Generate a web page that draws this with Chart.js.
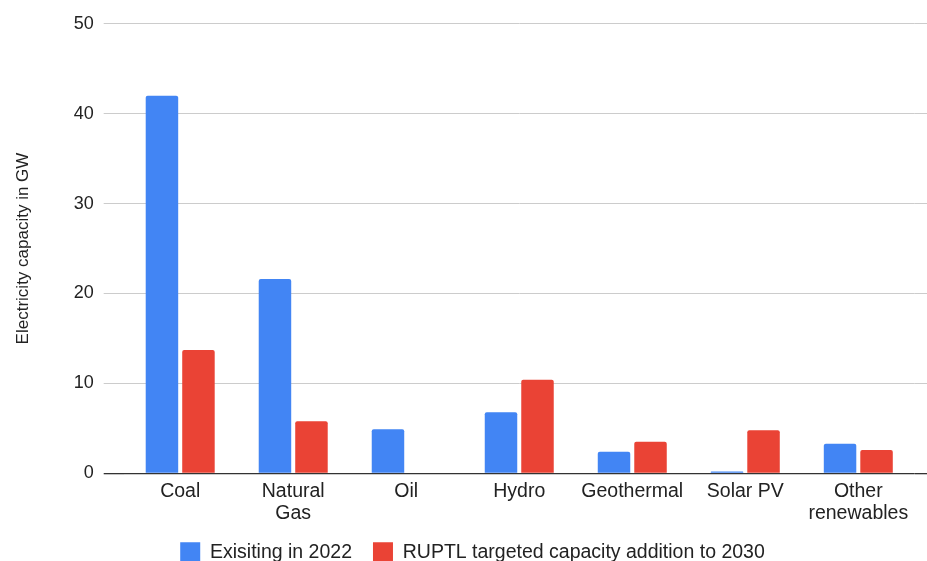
<!DOCTYPE html>
<html lang="en">
<head>
<meta charset="utf-8">
<title>Electricity capacity in GW</title>
<script src="https://cdn.jsdelivr.net/npm/chart.js@4.4.1/dist/chart.umd.min.js"></script>
<style>
    html, body { margin: 0; padding: 0; background: #ffffff; }
    #grafico { display: block; }
</style>
</head>
<body>
<canvas id="grafico" width="927" height="561"></canvas>
<script>
// ======================================================================
// 1. DATOS (GW)
// ======================================================================
const categorias = ['Coal', ['Natural', 'Gas'], 'Oil', 'Hydro', 'Geothermal', 'Solar PV', ['Other', 'renewables']];
const existente2022 = [42.0, 21.6, 4.9, 6.8, 2.4, 0.2, 3.3];
const metaRuptl2030 = [13.7, 5.8, 0, 10.4, 3.5, 4.8, 2.6];
const nombresSeries = ['Exisiting in 2022', 'RUPTL targeted capacity addition to 2030'];
const ticksEjeY = [0, 10, 20, 30, 40, 50];

const AZUL = '#4285F4';
const ROJO = '#EA4335';
const TEXTO = '#222222';
const FUENTE = "'Liberation Sans', Arial, Helvetica, sans-serif";

// Rejilla gris clara, la línea del cero más oscura
const colorRejilla = ctx => (ctx.tick && ctx.tick.value === 0) ? '#333333' : '#cccccc';
const grosorRejilla = ctx => (ctx.tick && ctx.tick.value === 0) ? 1.3 : 1;

// ======================================================================
// 2. GRÁFICO DE BARRAS AGRUPADAS
// ======================================================================
const ctxGrafico = document.getElementById('grafico').getContext('2d');
const graficoCapacidad = new Chart(ctxGrafico, {
    type: 'bar',
    data: {
        labels: categorias,
        datasets: [{
            label: nombresSeries[0],
            data: existente2022,
            backgroundColor: AZUL,
            borderWidth: 0,
            borderRadius: { topLeft: 2, topRight: 2 },
            borderSkipped: 'start',
            categoryPercentage: 0.646,
            barPercentage: 0.89
        }, {
            label: nombresSeries[1],
            data: metaRuptl2030,
            backgroundColor: ROJO,
            borderWidth: 0,
            borderRadius: { topLeft: 2, topRight: 2 },
            borderSkipped: 'start',
            categoryPercentage: 0.646,
            barPercentage: 0.89
        }]
    },
    options: {
        responsive: false,
        animation: false,
        events: [],
        layout: { padding: { left: 18, right: 0, top: 23.7, bottom: 0 } },
        plugins: {
            tooltip: { enabled: false },
            legend: {
                position: 'bottom',
                maxHeight: 39.7,
                labels: {
                    color: TEXTO,
                    font: { family: FUENTE, size: 19.5 },
                    boxWidth: 20,
                    boxHeight: 20,
                    padding: 21
                }
            }
        },
        scales: {
            x: {
                type: 'category',
                grid: { display: false, drawTicks: false },
                border: { display: false },
                ticks: {
                    color: TEXTO,
                    font: { family: FUENTE, size: 19.5, lineHeight: 1.1 },
                    padding: 8,
                    maxRotation: 0,
                    autoSkip: false
                },
                // alto fijo para que quepa la segunda línea de las etiquetas
                afterFit: eje => { eje.height = 48; }
            },
            y: {
                min: 0,
                max: 50,
                afterBuildTicks: eje => { eje.ticks = ticksEjeY.map(v => ({ value: v })); },
                grid: { color: colorRejilla, lineWidth: grosorRejilla, tickLength: 20, drawTicks: true },
                border: { display: false },
                ticks: {
                    color: TEXTO,
                    font: { family: FUENTE, size: 18 },
                    padding: 10
                },
                title: {
                    display: true,
                    text: 'Electricity capacity in GW',
                    color: TEXTO,
                    font: { family: FUENTE, size: 17, lineHeight: 1 },
                    padding: { top: -3, bottom: 0 }
                },
                afterFit: eje => { eje.width = 105.7; }
            },
            // eje espejo sin etiquetas: sólo prolonga la rejilla hacia la derecha
            yDerecha: {
                position: 'right',
                min: 0,
                max: 50,
                afterBuildTicks: eje => { eje.ticks = ticksEjeY.map(v => ({ value: v })); },
                grid: { color: colorRejilla, lineWidth: grosorRejilla, drawOnChartArea: false, drawTicks: true, tickLength: 13 },
                border: { display: false },
                ticks: { display: false },
                afterFit: eje => { eje.width = 12.2; }
            }
        }
    }
});
</script>
</body>
</html>
